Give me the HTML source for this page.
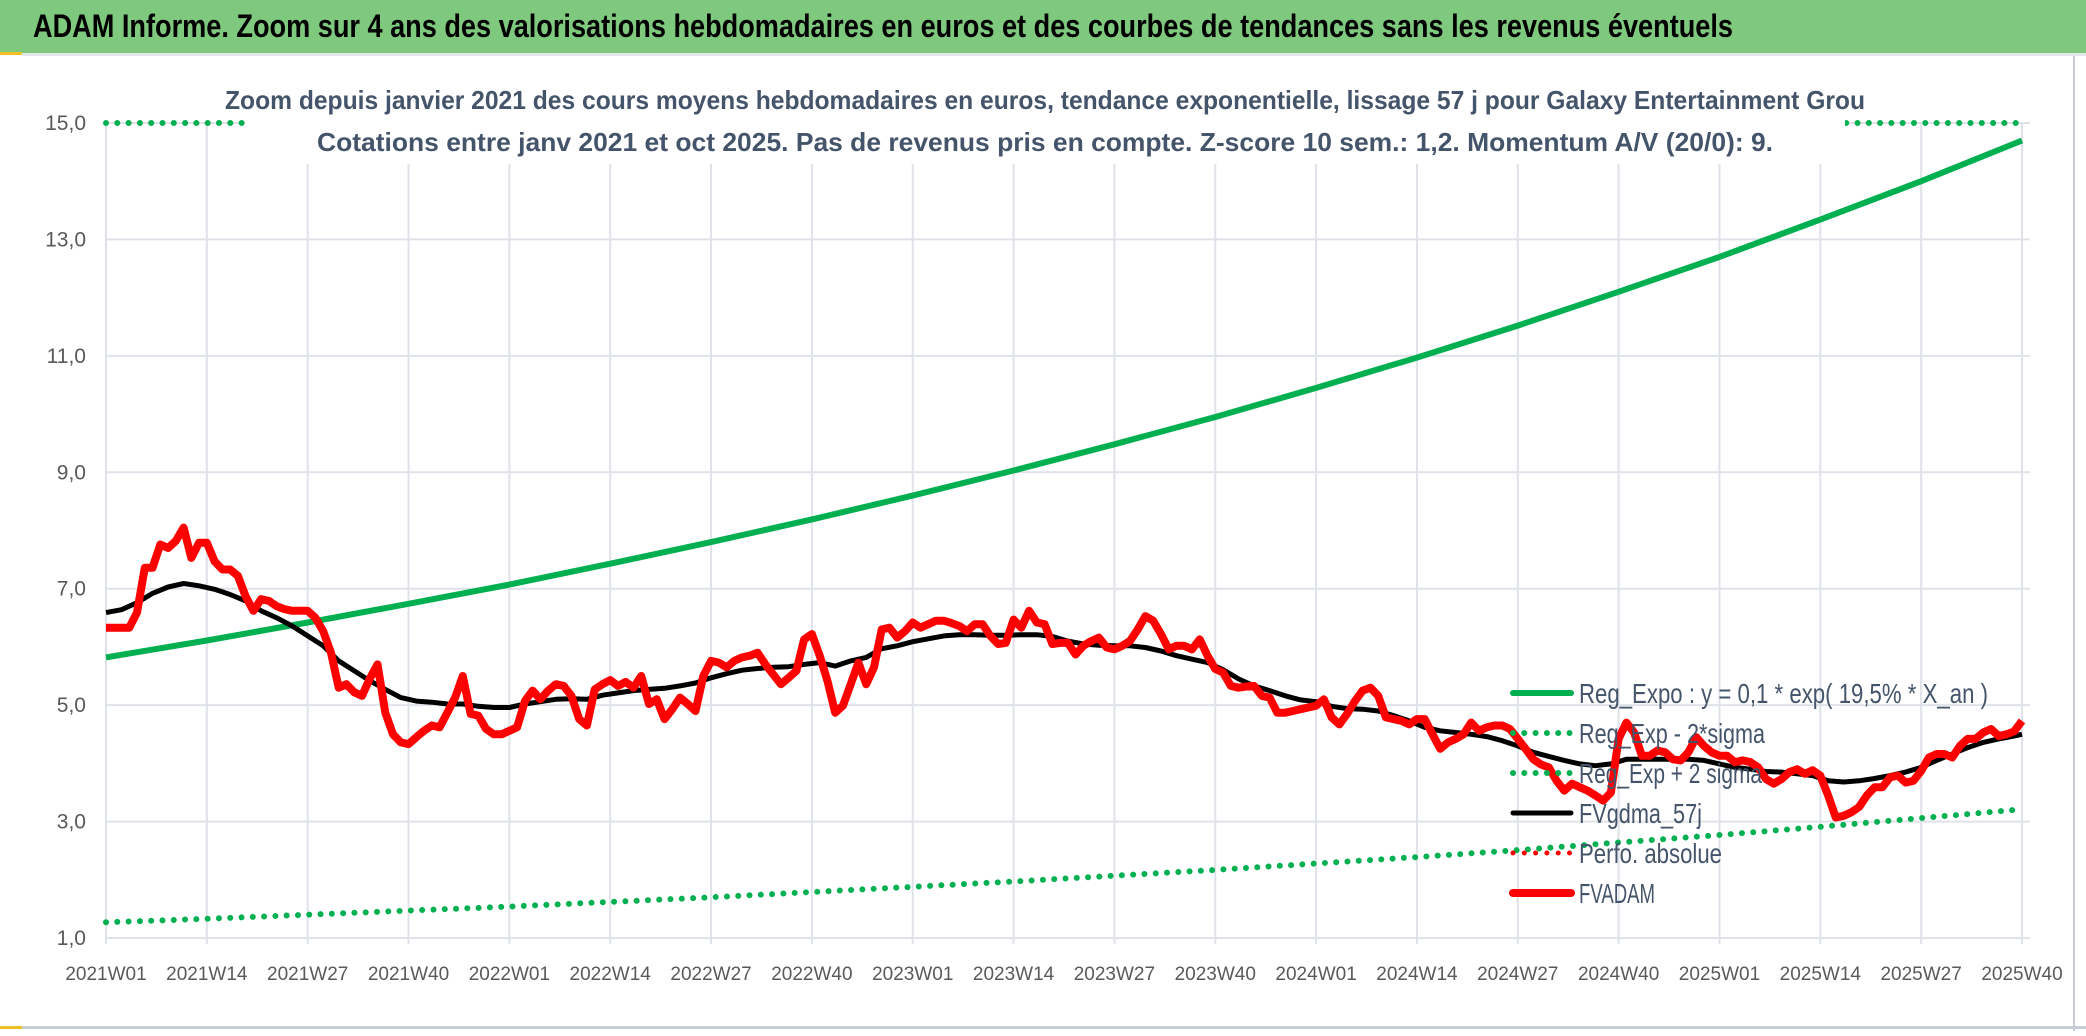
<!DOCTYPE html>
<html><head><meta charset="utf-8">
<style>
html,body{margin:0;padding:0;background:#fff;}
body{width:2086px;height:1031px;overflow:hidden;position:relative;font-family:"Liberation Sans Narrow","Liberation Sans",sans-serif;}
</style></head>
<body>
<svg id="chart" width="2086" height="1031" viewBox="0 0 2086 1031" xmlns="http://www.w3.org/2000/svg">
  <rect x="0" y="0" width="2086" height="1031" fill="#ffffff"/>
  <rect x="0" y="0" width="2086" height="53" fill="#7fc97f"/>
  <rect x="0" y="52" width="22" height="3" fill="#f0c020"/>
  <rect x="22" y="53" width="2064" height="3" fill="#e3e6ec"/>
  <text x="33" y="37" font-family="'Liberation Sans Narrow','Liberation Sans',sans-serif" font-weight="bold" font-size="32" fill="#000" textLength="1700" lengthAdjust="spacingAndGlyphs">ADAM Informe. Zoom sur 4 ans des valorisations hebdomadaires en euros et des courbes de tendances sans les revenus éventuels</text>
  <line x1="2074" y1="56" x2="2074" y2="1031" stroke="#c8ccd4" stroke-width="2"/>
  <rect x="0" y="1026" width="2086" height="3" fill="#c8ccd4"/>
  <rect x="0" y="1026" width="22" height="3" fill="#f0c020"/>
  <g id="grid"></g>
  <g id="series"></g>
  <g id="subtitle">
    <rect x="245" y="74" width="1600" height="90" fill="#fff"/>
    <text x="1045" y="109" text-anchor="middle" font-weight="bold" font-size="26" fill="#44546a" textLength="1640" lengthAdjust="spacingAndGlyphs">Zoom depuis janvier 2021 des cours moyens hebdomadaires en euros, tendance exponentielle, lissage 57 j pour Galaxy Entertainment Grou</text>
    <text x="1045" y="151" text-anchor="middle" font-weight="bold" font-size="26" fill="#44546a" textLength="1456" lengthAdjust="spacingAndGlyphs">Cotations entre janv 2021 et oct 2025. Pas de revenus pris en compte. Z-score 10 sem.: 1,2. Momentum A/V (20/0): 9.</text>
  </g>
  <g id="axes"></g>
  <g id="legend"></g>
</svg>
<script>
// ---- data ----
const xTickLabels = ["2021W01","2021W14","2021W27","2021W40","2022W01","2022W14","2022W27","2022W40","2023W01","2023W14","2023W27","2023W40","2024W01","2024W14","2024W27","2024W40","2025W01","2025W14","2025W27","2025W40"];
const yTickValues = [1,3,5,7,9,11,13,15];
const yTickLabels = ["1,0","3,0","5,0","7,0","9,0","11,0","13,0","15,0"];
// Reg_Expo sampled at each 13-week tick
const expoValues = [5.82,6.11,6.42,6.74,7.07,7.43,7.80,8.19,8.60,9.03,9.48,9.95,10.45,10.97,11.52,12.10,12.70,13.34,14.00,14.70];
// Reg_Exp - 2*sigma at each tick
const lowerValues = [1.27,1.33,1.40,1.47,1.54,1.62,1.70,1.79,1.88,1.97,2.07,2.17,2.28,2.39,2.51,2.64,2.77,2.91,3.06,3.21];
// Reg_Exp + 2 sigma at each tick (beyond axis max)
const upperValues = [26.7,28.0,29.4,30.9,32.4,34.0,35.7,37.5,39.4,41.4,43.4,45.6,47.9,50.3,52.8,55.4,58.2,61.1,64.2,67.4];
// FVgdma_57j every 2 weeks
const smaValues = [6.59,6.64,6.76,6.92,7.03,7.09,7.05,6.99,6.90,6.79,6.62,6.50,6.36,6.19,6.02,5.76,5.59,5.42,5.27,5.13,5.07,5.05,5.02,5.02,4.98,4.96,4.96,5.02,5.06,5.10,5.11,5.10,5.17,5.21,5.25,5.27,5.29,5.33,5.38,5.47,5.54,5.60,5.63,5.65,5.66,5.70,5.73,5.67,5.76,5.82,5.97,6.02,6.09,6.14,6.19,6.21,6.21,6.20,6.20,6.21,6.21,6.18,6.10,6.05,6.03,6.02,6.02,5.99,5.93,5.85,5.79,5.73,5.61,5.45,5.33,5.25,5.16,5.09,5.06,4.98,4.94,4.93,4.90,4.82,4.73,4.62,4.56,4.53,4.50,4.46,4.39,4.30,4.19,4.12,4.05,3.99,3.96,3.99,4.07,4.07,4.07,4.07,4.07,4.05,3.99,3.93,3.90,3.86,3.85,3.82,3.79,3.70,3.68,3.70,3.74,3.79,3.85,3.93,4.05,4.16,4.27,4.36,4.42,4.47,4.50];
// FVADAM weekly
const priceValues = [6.33,6.33,6.33,6.33,6.59,7.36,7.36,7.76,7.70,7.82,
8.05,7.53,7.79,7.79,7.47,7.33,7.33,7.22,6.87,6.62,
6.82,6.79,6.70,6.65,6.62,6.62,6.62,6.50,6.27,5.90,
5.30,5.36,5.22,5.16,5.45,5.70,4.87,4.50,4.36,4.33,
4.45,4.56,4.65,4.62,4.87,5.13,5.50,4.85,4.82,4.59,
4.50,4.50,4.56,4.62,5.07,5.25,5.10,5.25,5.36,5.33,
5.16,4.76,4.65,5.27,5.36,5.43,5.33,5.40,5.30,5.50,
5.02,5.10,4.76,4.93,5.13,5.02,4.90,5.50,5.76,5.73,
5.65,5.76,5.82,5.85,5.90,5.70,5.53,5.36,5.47,5.59,
6.13,6.22,5.85,5.42,4.87,4.99,5.36,5.73,5.36,5.65,
6.30,6.33,6.16,6.27,6.42,6.33,6.39,6.45,6.45,6.41,
6.36,6.27,6.39,6.39,6.19,6.05,6.07,6.47,6.33,6.62,
6.42,6.39,6.05,6.07,6.07,5.87,6.02,6.10,6.16,5.99,
5.96,6.02,6.10,6.30,6.53,6.45,6.22,5.96,6.02,6.02,
5.96,6.13,5.85,5.62,5.56,5.33,5.30,5.32,5.33,5.16,
5.13,4.87,4.87,4.90,4.93,4.96,4.99,5.10,4.79,4.67,
4.85,5.07,5.25,5.30,5.16,4.79,4.76,4.73,4.67,4.76,
4.76,4.50,4.25,4.36,4.42,4.50,4.70,4.56,4.62,4.65,
4.65,4.59,4.42,4.25,4.07,3.98,3.93,3.70,3.53,3.65,
3.59,3.53,3.45,3.36,3.50,4.42,4.70,4.53,4.13,4.13,
4.22,4.19,4.07,4.05,4.19,4.45,4.30,4.19,4.13,4.13,
4.02,4.05,4.02,3.93,3.73,3.65,3.73,3.85,3.90,3.82,
3.88,3.79,3.45,3.07,3.10,3.16,3.25,3.45,3.59,3.59,
3.76,3.79,3.67,3.70,3.87,4.10,4.16,4.16,4.10,4.30,
4.42,4.42,4.53,4.59,4.47,4.50,4.55,4.73];

// ---- scales ----
const X0 = 106, X1 = 2022, Y15 = 123, Y1 = 938;
const totalWeeks = 247, tickStep = 13;
const yMin = 1, yMax = 15;
function xScale(w){ return X0 + (X1 - X0) * w / totalWeeks; }
function yScale(v){ const c = Math.max(yMin, Math.min(yMax, v)); return Y1 - (Y1 - Y15) * (c - yMin) / (yMax - yMin); }

const NS = "http://www.w3.org/2000/svg";
function mk(tag, attrs, parent){ const e = document.createElementNS(NS, tag); for (const k in attrs) e.setAttribute(k, attrs[k]); parent.appendChild(e); return e; }

const grid = document.getElementById('grid');
const axes = document.getElementById('axes');
const series = document.getElementById('series');
const legend = document.getElementById('legend');

// gridlines
yTickValues.forEach((v, i) => {
  const l = mk('line', {x1: X0, x2: X1 + 8, y1: yScale(v), y2: yScale(v), stroke: '#dfe2e8', 'stroke-width': 2}, grid);
  
  
  const t = mk('text', {x: 86, y: yScale(v) + 7, 'text-anchor': 'end', 'font-size': 21, fill: '#595959'}, axes);
  t.textContent = yTickLabels[i];
  
  
});
xTickLabels.forEach((lab, i) => {
  const x = xScale(i * tickStep);
  const l = mk('line', {x1: x, x2: x, y1: Y15, y2: Y1 + 6, stroke: '#dfe2e8', 'stroke-width': 2}, grid);
  
  
  const t = mk('text', {x: x, y: 980, 'text-anchor': 'middle', 'font-size': 19, fill: '#595959'}, axes);
  t.textContent = lab;
  
  
});

function pathFrom(weeks, vals){ return vals.map((v, i) => (i ? 'L' : 'M') + xScale(weeks(i)).toFixed(1) + ',' + yScale(v).toFixed(1)).join(' '); }

const dLower = mk('path', {d: pathFrom(i => i * tickStep, lowerValues), fill: 'none', stroke: '#00b050', 'stroke-width': 6, 'stroke-linecap': 'round', 'stroke-dasharray': '0 11.3'}, series);


const dUpper = mk('path', {d: pathFrom(i => i * tickStep, upperValues), fill: 'none', stroke: '#00b050', 'stroke-width': 6, 'stroke-linecap': 'round', 'stroke-dasharray': '0 11.3'}, series);


const dExpo = mk('path', {d: pathFrom(i => i * tickStep, expoValues), fill: 'none', stroke: '#00b050', 'stroke-width': 6, 'stroke-linejoin': 'round'}, series);


const dSma = mk('path', {d: pathFrom(i => Math.min(i * 2, totalWeeks), smaValues), fill: 'none', stroke: '#000', 'stroke-width': 5, 'stroke-linejoin': 'round'}, series);


const dPrice = mk('path', {d: pathFrom(i => i, priceValues), fill: 'none', stroke: '#ff0000', 'stroke-width': 8, 'stroke-linejoin': 'round'}, series);



// legend
const legendItems = [
  {label: 'Reg_Expo : y = 0,1 * exp( 19,5% *  X_an )', color: '#00b050', dash: null, w: 6, len: 409},
  {label: 'Reg_Exp - 2*sigma', color: '#00b050', dash: '0 11.3', w: 6, len: 186},
  {label: 'Reg_Exp + 2 sigma', color: '#00b050', dash: '0 11.3', w: 6, len: 183},
  {label: 'FVgdma_57j', color: '#000', dash: null, w: 5, len: 123},
  {label: 'Perfo. absolue', color: '#ff0000', dash: '0 11.3', w: 5, len: 143},
  {label: 'FVADAM', color: '#ff0000', dash: null, w: 8, len: 76}
];
legendItems.forEach((it, i) => {
  const y = 693 + i * 40;
  const g = mk('g', {}, legend);
  
  
  const a = {x1: 1513, x2: 1571, y1: y, y2: y, stroke: it.color, 'stroke-width': it.w, 'stroke-linecap': 'round'};
  if (it.dash) a['stroke-dasharray'] = it.dash;
  mk('line', a, g);
  const t = mk('text', {x: 1579, y: y + 10, 'font-size': 28, fill: '#44546a', textLength: it.len, lengthAdjust: 'spacingAndGlyphs'}, g);
  t.textContent = it.label;
});
</script>
</body></html>
